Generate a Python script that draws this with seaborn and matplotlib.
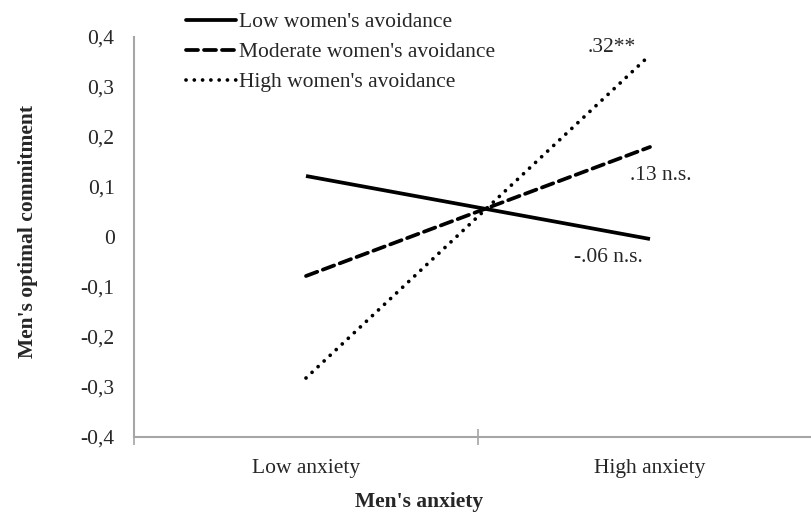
import matplotlib
matplotlib.use("Agg")
import matplotlib.pyplot as plt
import pandas as pd
import seaborn as sns

# 数据
anxiety = ["Low anxiety", "High anxiety"]
low_avoid = [0.122, -0.004]
moderate_avoid = [-0.078, 0.180]
high_avoid = [-0.282, 0.364]
series_names = ["Low women's avoidance", "Moderate women's avoidance", "High women's avoidance"]
slope_labels = ["-.06 n.s.", ".13 n.s.", ".32**"]
yticks = [-0.4, -0.3, -0.2, -0.1, 0, 0.1, 0.2, 0.3, 0.4]

df = pd.DataFrame({
    "anxiety": anxiety * 3,
    "value": low_avoid + moderate_avoid + high_avoid,
    "group": [series_names[0]] * 2 + [series_names[1]] * 2 + [series_names[2]] * 2,
})

sns.set_style("white")
plt.rcParams['font.family'] = ['Liberation Serif', 'DejaVu Serif']
FS = 15.5

fig = plt.figure(figsize=(8.12, 5.16), dpi=100)
ax = fig.add_axes([134 / 812, 1 - 437 / 516, 1 - 134 / 812, 400 / 516])

dash_map = {series_names[0]: "", series_names[1]: (3.2, 1.6), series_names[2]: (0.01, 2.2)}
sns.lineplot(data=df, x="anxiety", y="value", style="group", dashes=dash_map,
             color="black", linewidth=2.7, ax=ax, legend=False, sort=False)
for line in ax.get_lines():
    line.set_dash_capstyle("round")
    line.set_solid_capstyle("butt")

ax.set_xlim(-0.5, (812 - 134) / 344 - 0.5)
ax.set_ylim(-0.4, 0.4)
ax.set_yticks(yticks)
ax.set_yticklabels([("%.1f" % v).replace(".", ",") if v != 0 else "0" for v in yticks], fontsize=FS)
ax.set_xticks([-0.5, 0.5], minor=False)
ax.set_xticklabels(["", ""])
ax.set_xticks([0, 1], minor=True)
ax.set_xticklabels(anxiety, minor=True, fontsize=FS)
ax.tick_params(axis="x", which="major", bottom=True, direction="inout", length=11, width=1.2,
               color="#a6a6a6")
ax.tick_params(axis="x", which="minor", bottom=True, length=0, pad=16)
ax.tick_params(axis="y", left=False, length=0, pad=14)
ax.set_xlabel("")
ax.set_ylabel("")

for side in ["top", "right"]:
    ax.spines[side].set_visible(False)
for side in ["left", "bottom"]:
    ax.spines[side].set_color("#a6a6a6")
    ax.spines[side].set_linewidth(1.5)

# 斜率标注
ax.text(0.89, 0.378, slope_labels[2], fontsize=FS, ha="center", va="center")
ax.text(1.03, 0.124, slope_labels[1], fontsize=FS, ha="center", va="center")
ax.text(0.88, -0.040, slope_labels[0], fontsize=FS, ha="center", va="center")

# 轴标题
fig.text(419 / 812, 1 - 502 / 516, "Men's anxiety", fontsize=FS, fontweight="bold",
         ha="center", va="center")
fig.text(28 / 812, 1 - 232 / 516, "Men's optimal commitment", fontsize=FS, fontweight="bold",
         ha="center", va="center", rotation=90)

# 图例
handles = [plt.Line2D([], [], color="black", linewidth=2.7, linestyle="-"),
           plt.Line2D([], [], color="black", linewidth=2.7, linestyle=(0, (3.2, 1.6)),
                      dash_capstyle="round"),
           plt.Line2D([], [], color="black", linewidth=2.7, linestyle=(0, (0.01, 2.2)),
                      dash_capstyle="round")]
fig.legend(handles, series_names, loc="upper left", bbox_to_anchor=(186 / 812, 1 - 12 / 516),
           frameon=False, fontsize=FS, handlelength=2.3, handletextpad=0.15,
           labelspacing=0.47, borderaxespad=0, borderpad=0)

fig.savefig("out.png", dpi=100)
